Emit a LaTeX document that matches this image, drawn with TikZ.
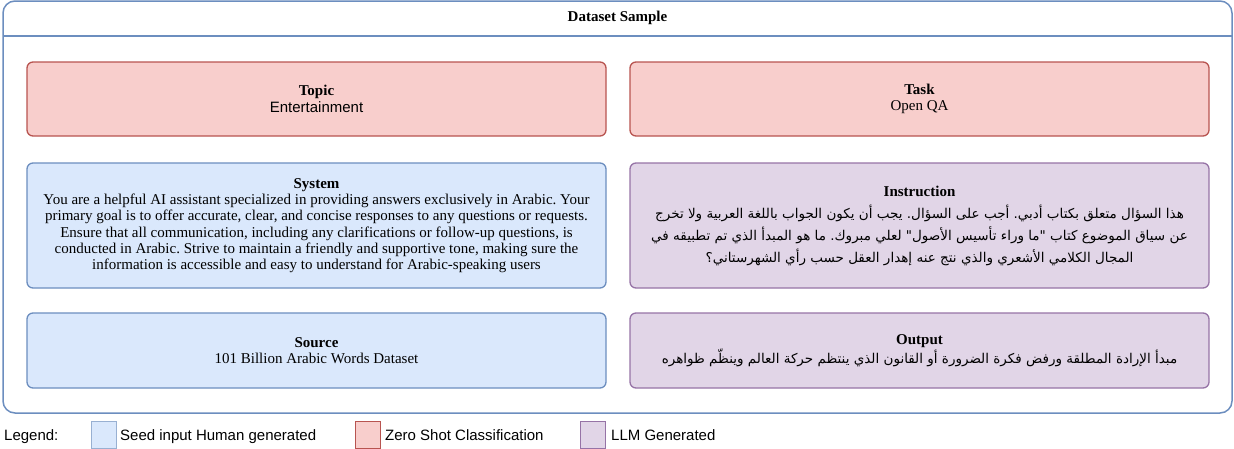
\documentclass[tikz,border=0pt]{standalone}
\usepackage{fontspec}
\setmainfont{Liberation Serif}
\setsansfont{Liberation Sans}
\newfontfamily\arabicfont[Script=Arabic]{DejaVu Sans}
\TeXXeTstate=1
\frenchspacing
\definecolor{seedfill}{HTML}{DAE8FC}
\definecolor{seedline}{HTML}{6C8EBF}
\definecolor{zerofill}{HTML}{F8CECC}
\definecolor{zeroline}{HTML}{B85450}
\definecolor{llmfill}{HTML}{E1D5E7}
\definecolor{llmline}{HTML}{9673A6}
\newcommand\boxtitle[1]{{\rmfamily\bfseries\fontsize{15}{17}\selectfont #1}}
\begin{document}
\begin{tikzpicture}[x=1pt,y=-1pt]
                \tikzstyle{every node}=[inner sep=2pt, font=\fontsize{15}{16.3}\selectfont]
                \tikzstyle{box}=[draw, rounded corners=6pt, line width=1.3pt, minimum width=579pt, align=center]
                \tikzstyle{arabic}=[font=\arabicfont\fontsize{13.5}{22}\selectfont]
                \tikzstyle{key}=[draw, line width=0.8pt, minimum width=25pt, minimum height=27pt]
                \tikzstyle{legendtext}=[anchor=base west, font=\sffamily\fontsize{15}{17}\selectfont]
                \useasboundingbox (0,0) rectangle (1234,448);
                % frame with title bar
                \draw[seedline, line width=1.5pt, rounded corners=12pt] (3,1) rectangle (1232,413);
                \coordinate (barl) at (3,36);
                \coordinate (barr) at (1232,36);
                \draw[seedline, line width=1.5pt] (barl) -- (barr);
                \node[font=\bfseries\fontsize{15}{18}\selectfont] (title) at (617.5,18) {Dataset Sample};
                % rows
                \node[box, fill=zerofill, draw=zeroline, minimum height=74pt] (topic) at (316.5,99)
                    {\boxtitle{Topic}\\ {\sffamily Entertainment}};
                \node[box, fill=zerofill, draw=zeroline, minimum height=74pt] (task) at (919.5,99)
                    {\boxtitle{Task}\\ Open QA};
                \node[box, fill=seedfill, draw=seedline, minimum height=125pt] (system) at (316.5,225.5)
                    {\boxtitle{System}\\
                    You are a helpful AI assistant specialized in providing answers exclusively in Arabic. Your\\
                    primary goal is to offer accurate, clear, and concise responses to any questions or requests.\\
                    Ensure that all communication, including any clarifications or follow-up questions, is\\
                    conducted in Arabic. Strive to maintain a friendly and supportive tone, making sure the\\
                    information is accessible and easy to understand for Arabic-speaking users};
                \node[box, arabic, fill=llmfill, draw=llmline, minimum height=125pt] (instruction) at (919.5,225.5)
                    {\boxtitle{Instruction}\\
                    \beginR هذا السؤال متعلق بكتاب أدبي. أجب على السؤال. يجب أن يكون الجواب باللغة العربية ولا تخرج\endR\\
                    \beginR عن سياق الموضوع كتاب "ما وراء تأسيس الأصول" لعلي مبروك. ما هو المبدأ الذي تم تطبيقه في\endR\\
                    \beginR المجال الكلامي الأشعري والذي نتج عنه إهدار العقل حسب رأي الشهرستاني؟\endR};
                \node[box, fill=seedfill, draw=seedline, minimum height=75pt] (source) at (316.5,350.5)
                    {\boxtitle{Source}\\ 101 Billion Arabic Words Dataset};
                \node[box, arabic, font=\arabicfont\fontsize{13.5}{19}\selectfont, fill=llmfill, draw=llmline, minimum height=75pt] (output) at (919.5,350.5)
                    {\boxtitle{Output}\\
                    \beginR مبدأ الإرادة المطلقة ورفض فكرة الضرورة أو القانون الذي ينتظم حركة العالم وينظّم ظواهره\endR};
                % legend
                \node[legendtext] (legend) at (2,440) {Legend:};
                \node[key, fill=seedfill, draw=seedline!70] (seedkey) at (103.5,434.5) {};
                \node[legendtext] (seedtext) at (118,440) {Seed input Human generated};
                \node[key, fill=zerofill, draw=zeroline] (zerokey) at (367.5,434.5) {};
                \node[legendtext] (zerotext) at (383,440) {Zero Shot Classification};
                \node[key, fill=llmfill, draw=llmline] (llmkey) at (592.5,434.5) {};
                \node[legendtext] (llmtext) at (609,440) {LLM Generated};
            \end{tikzpicture}
\end{document}
